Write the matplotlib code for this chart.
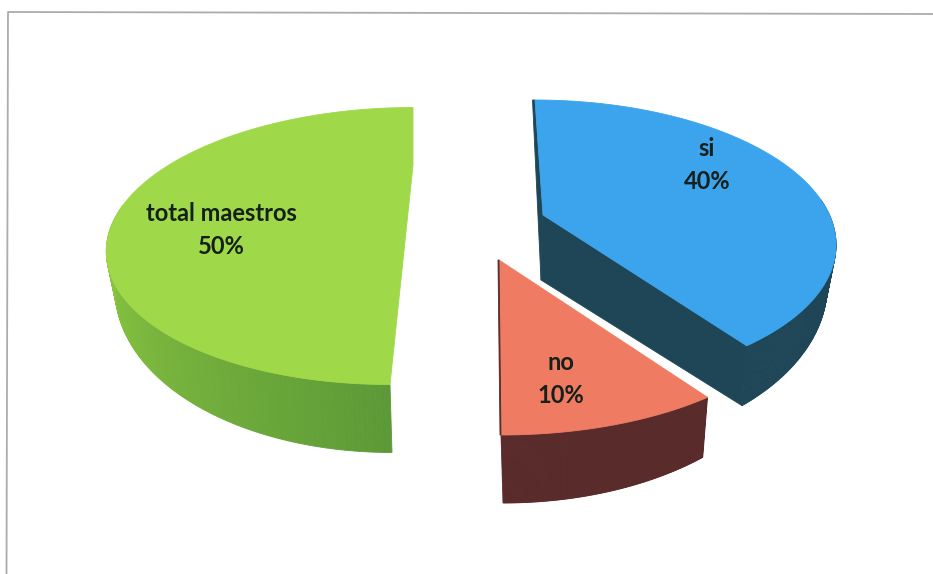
import numpy as np
import matplotlib
matplotlib.use("Agg")
import matplotlib.pyplot as plt
from matplotlib.colors import to_rgb

# -----------------------
# DATA
# -----------------------
labels = ["si", "no", "total maestros"]
values = [40, 10, 50]

# -----------------------
# STYLE / LAYOUT (pixels, one entry per slice)
# -----------------------
centers = [(541, 242), (500, 295), (401.5, 246)]
apexes = [(543, 215), (499, 260), (413, 165)]
semi_a = [295, 303, 295]
semi_b = [142, 140, 138.5]
lean = [-6, -1, 11.5]
top_colors = ["#3ca4ec", "#ef7c62", "#9fd94a"]
side_left = ["#1e4657", "#5a2b2b", "#5d9a37"]
side_right = ["#1e4657", "#5a2b2b", "#8ac640"]
text_pos = [(707, 165), (561, 379), (221, 230)]


def warp(t):
    # perspective squeezes the angles of a tilted pie
    return t + np.radians(7.4) * np.sin(2 * t)


def edge(i, t, depth=False):
    phi = warp(t)
    sx = 0.97 if depth else 1.0
    x = centers[i][0] + sx * semi_a[i] * np.sin(phi) + lean[i] * np.cos(phi)
    y = centers[i][1] - semi_b[i] * np.cos(phi)
    if depth:
        y = y + 38 - 30 * np.cos(phi)
        x = x - 2 * np.cos(phi)
    return x, y


fig = plt.figure(figsize=(9.33, 5.74), dpi=100)
ax = fig.add_axes([0, 0, 1, 1])
ax.set_xlim(0, 933)
ax.set_ylim(574, 0)
ax.axis("off")

# frame of the scanned page, slightly skewed
ax.plot([6.5, 8, 933], [574, 12, 14], color="#a8adad", lw=1.3)

angles = np.radians(np.concatenate([[0], np.cumsum(values)]) / sum(values) * 360)

for i in range(len(values)):
    start, end = angles[i], angles[i + 1]
    t = np.linspace(start, end, 240)
    x_top, y_top = edge(i, t)
    ax_, ay_ = apexes[i]

    # side wall, only the part of the rim that faces us
    phi = warp(t)
    t_side = t[np.cos(phi) < 0.3]
    for a, b in zip(t_side[:-1], t_side[1:]):
        seg = np.array([a, b])
        x1, y1 = edge(i, seg)
        x2, y2 = edge(i, seg, depth=True)
        f = np.clip((warp(a) - np.pi) / (np.pi / 2), 0, 1) if i == 2 else 0
        col = np.array(to_rgb(side_left[i])) * (1 - f) + np.array(to_rgb(side_right[i])) * f
        ax.fill(np.r_[x1, x2[::-1]], np.r_[y1, y2[::-1]], color=col, lw=0.6, zorder=2)

    # cut walls of the exploded slices
    if i == 0:
        xd, yd = edge(i, np.array([end]), depth=True)
        xe, ye = edge(i, np.array([end]))
        dep = 65
        ax.fill([ax_, ax_ - 2, xd[0], xe[0]], [ay_, ay_ + dep, yd[0], ye[0]],
                color=side_left[i], lw=0.6, zorder=2)
        ax.fill([x_top[0] - 2.5, x_top[0], ax_, ax_ - 2],
                [y_top[0], y_top[0], ay_, ay_ + dep],
                color=side_left[i], lw=0.6, zorder=2)
    if i == 1:
        xe, ye = edge(i, np.array([end]))
        ax.fill([ax_ - 1, ax_, xe[0], xe[0] - 1], [ay_, ay_, ye[0], ye[0]],
                color=side_left[i], lw=0.6, zorder=4)

    # top surface
    ax.fill(np.r_[ax_, x_top], np.r_[ay_, y_top], color=top_colors[i], lw=0.6, zorder=3)

    pct = round(values[i] / sum(values) * 100)
    ax.text(text_pos[i][0], text_pos[i][1], f"{labels[i]}\n{pct}%", ha="center", va="center",
            family="Lato", fontsize=17, weight="bold", color="#15201a", linespacing=1.55, zorder=5)

fig.savefig("out.png", dpi=100)
